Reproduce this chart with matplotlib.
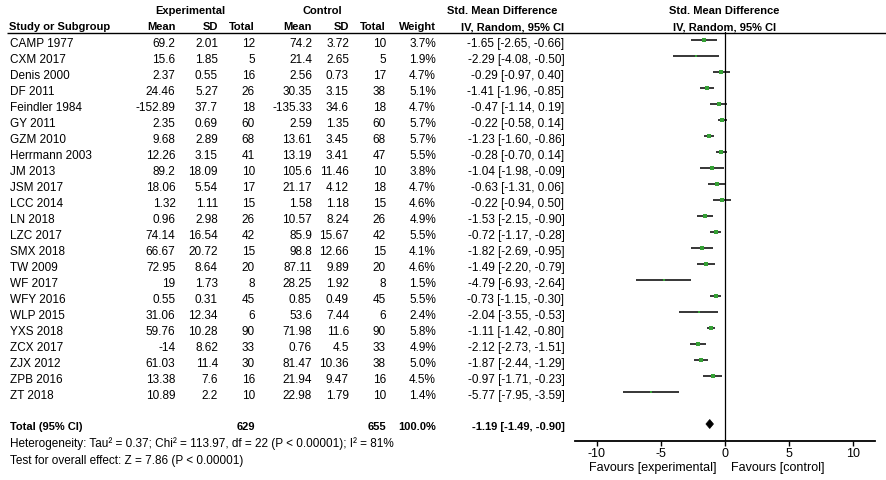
import matplotlib.pyplot as plt
from matplotlib.patches import Polygon
import numpy as np

plt.rcParams['font.family'] = ['Liberation Sans', 'DejaVu Sans']

studies = ['CAMP 1977', 'CXM 2017', 'Denis 2000', 'DF 2011', 'Feindler 1984', 'GY 2011',
           'GZM 2010', 'Herrmann 2003', 'JM 2013', 'JSM 2017', 'LCC 2014', 'LN 2018',
           'LZC 2017', 'SMX 2018', 'TW 2009', 'WF 2017', 'WFY 2016', 'WLP 2015',
           'YXS 2018', 'ZCX 2017', 'ZJX 2012', 'ZPB 2016', 'ZT 2018']
exp_mean = [69.2, 15.6, 2.37, 24.46, -152.89, 2.35, 9.68, 12.26, 89.2, 18.06, 1.32, 0.96,
            74.14, 66.67, 72.95, 19, 0.55, 31.06, 59.76, -14, 61.03, 13.38, 10.89]
exp_sd = [2.01, 1.85, 0.55, 5.27, 37.7, 0.69, 2.89, 3.15, 18.09, 5.54, 1.11, 2.98,
          16.54, 20.72, 8.64, 1.73, 0.31, 12.34, 10.28, 8.62, 11.4, 7.6, 2.2]
exp_n = [12, 5, 16, 26, 18, 60, 68, 41, 10, 17, 15, 26, 42, 15, 20, 8, 45, 6, 90, 33, 30, 16, 10]
ctl_mean = [74.2, 21.4, 2.56, 30.35, -135.33, 2.59, 13.61, 13.19, 105.6, 21.17, 1.58, 10.57,
            85.9, 98.8, 87.11, 28.25, 0.85, 53.6, 71.98, 0.76, 81.47, 21.94, 22.98]
ctl_sd = [3.72, 2.65, 0.73, 3.15, 34.6, 1.35, 3.45, 3.41, 11.46, 4.12, 1.18, 8.24,
          15.67, 12.66, 9.89, 1.92, 0.49, 7.44, 11.6, 4.5, 10.36, 9.47, 1.79]
ctl_n = [10, 5, 17, 38, 18, 60, 68, 47, 10, 18, 15, 26, 42, 15, 20, 8, 45, 6, 90, 33, 38, 16, 10]
weight = [3.7, 1.9, 4.7, 5.1, 4.7, 5.7, 5.7, 5.5, 3.8, 4.7, 4.6, 4.9, 5.5, 4.1, 4.6, 1.5,
          5.5, 2.4, 5.8, 4.9, 5.0, 4.5, 1.4]
smd = [-1.65, -2.29, -0.29, -1.41, -0.47, -0.22, -1.23, -0.28, -1.04, -0.63, -0.22, -1.53,
       -0.72, -1.82, -1.49, -4.79, -0.73, -2.04, -1.11, -2.12, -1.87, -0.97, -5.77]
ci_low = [-2.65, -4.08, -0.97, -1.96, -1.14, -0.58, -1.60, -0.70, -1.98, -1.31, -0.94, -2.15,
          -1.17, -2.69, -2.20, -6.93, -1.15, -3.55, -1.42, -2.73, -2.44, -1.71, -7.95]
ci_high = [-0.66, -0.50, 0.40, -0.85, 0.19, 0.14, -0.86, 0.14, -0.09, 0.06, 0.50, -0.90,
           -0.28, -0.95, -0.79, -2.64, -0.30, -0.53, -0.80, -1.51, -1.29, -0.23, -3.59]

total_exp, total_ctl = 629, 655
total_smd, total_low, total_high = -1.19, -1.49, -0.90
het_text = 'Heterogeneity: Tau\u00b2 = 0.37; Chi\u00b2 = 113.97, df = 22 (P < 0.00001); I\u00b2 = 81%'
test_text = 'Test for overall effect: Z = 7.86 (P < 0.00001)'
xticks = [-10, -5, 0, 5, 10]

W, H = 886, 480
fig = plt.figure(figsize=(W / 100, H / 100), dpi=100)
fig.patch.set_facecolor('white')

# background axes in pixel coordinates for the table text
ax = fig.add_axes([0, 0, 1, 1])
ax.set_xlim(0, W)
ax.set_ylim(H, 0)
ax.axis('off')

fs = 8.5
fb = 8
green = '#35a035'

# headers
ax.text(190, 13.5, 'Experimental', ha='center', va='baseline', fontsize=fb, fontweight='bold')
ax.text(322, 13.5, 'Control', ha='center', va='baseline', fontsize=fb, fontweight='bold')
ax.text(502, 13.5, 'Std. Mean Difference', ha='center', va='baseline', fontsize=fb, fontweight='bold')
ax.text(724.5, 13.5, 'Std. Mean Difference', ha='center', va='baseline', fontsize=fb, fontweight='bold')
hy = 30
ax.text(9, hy, 'Study or Subgroup', ha='left', va='baseline', fontsize=fb, fontweight='bold')
for x, s in [(175.5, 'Mean'), (218, 'SD'), (255, 'Total'), (312, 'Mean'), (349, 'SD'),
             (386, 'Total'), (436, 'Weight'), (564.5, 'IV, Random, 95% CI')]:
    ax.text(x, hy, s, ha='right', va='baseline', fontsize=fb, fontweight='bold')
ax.text(725, hy, 'IV, Random, 95% CI', ha='center', va='baseline', fontsize=fb, fontweight='bold')
ax.plot([7, W], [32.5, 32.5], color='black', lw=1.0, solid_capstyle='butt')

# study rows
for i, name in enumerate(studies):
    y = 46.7 + 16 * i
    ax.text(10, y, name, ha='left', va='baseline', fontsize=fs)
    cols = [(175.5, f'{exp_mean[i]:g}'), (218, f'{exp_sd[i]:g}'), (255, str(exp_n[i])),
            (312, f'{ctl_mean[i]:g}'), (349, f'{ctl_sd[i]:g}'), (386, str(ctl_n[i])),
            (436, f'{weight[i]:.1f}%'),
            (564.5, f'{smd[i]:.2f} [{ci_low[i]:.2f}, {ci_high[i]:.2f}]')]
    for x, s in cols:
        ax.text(x, y, s, ha='right', va='baseline', fontsize=fs)

# total row
ty = 429.5
ax.text(10, ty, 'Total (95% CI)', ha='left', va='baseline', fontsize=fb, fontweight='bold')
ax.text(255, ty, str(total_exp), ha='right', va='baseline', fontsize=fb, fontweight='bold')
ax.text(386, ty, str(total_ctl), ha='right', va='baseline', fontsize=fb, fontweight='bold')
ax.text(436, ty, '100.0%', ha='right', va='baseline', fontsize=fb, fontweight='bold')
ax.text(564.5, ty, f'{total_smd:.2f} [{total_low:.2f}, {total_high:.2f}]',
        ha='right', va='baseline', fontsize=fb, fontweight='bold')
ax.text(10, 447, het_text, ha='left', va='baseline', fontsize=fs)
ax.text(10, 464, test_text, ha='left', va='baseline', fontsize=fs)

# forest plot axes
left, right, top, bottom = 575, 875, 32.5, 441
fx = fig.add_axes([left / W, (H - bottom) / H, (right - left) / W, (bottom - top) / H])
fx.patch.set_alpha(0)
fx.set_xlim(-11.7, 11.7)
fx.set_ylim((bottom - 40) / 16, (top - 40) / 16)
for s in ['top', 'left', 'right']:
    fx.spines[s].set_visible(False)
fx.spines['bottom'].set_linewidth(1.3)
fx.set_yticks([])
fx.set_xticks(xticks)
fx.set_xticklabels([str(t) for t in xticks])
fx.tick_params(axis='x', direction='out', length=3.5, width=1, pad=1.5, labelsize=9)
fx.axvline(0, color='black', lw=0.9)

rows = np.arange(len(studies))
fx.hlines(rows, ci_low, ci_high, color='black', lw=1.1, zorder=2)
for i in rows:
    side = 1.7 * np.sqrt(weight[i]) * 0.72
    fx.plot(smd[i], i, marker='s', ms=side, color=green, mec=green, mew=0, ls='none', zorder=3)

dy = 0.28
diamond = Polygon([[total_low, 24], [total_smd, 24 - dy], [total_high, 24], [total_smd, 24 + dy]],
                  closed=True, facecolor='black', edgecolor='black', lw=0.5)
fx.add_patch(diamond)

ax.text(717, 470.5, 'Favours [experimental]', ha='right', va='baseline', fontsize=9)
ax.text(731, 470.5, 'Favours [control]', ha='left', va='baseline', fontsize=9)

fig.savefig('out.png', dpi=100)
